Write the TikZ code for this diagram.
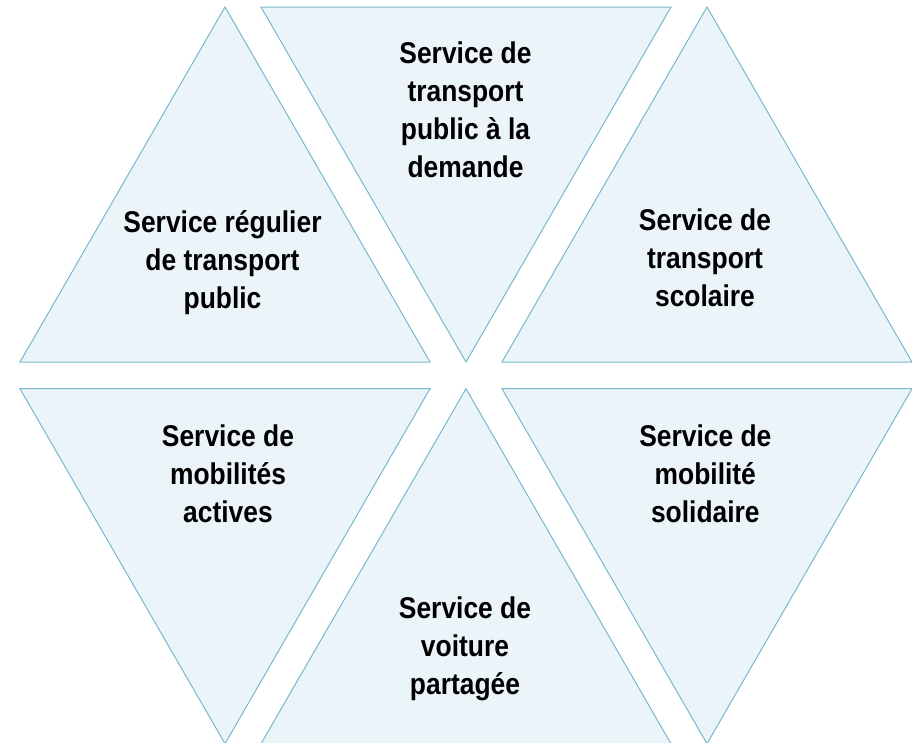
\documentclass[tikz,border=0pt]{standalone}
\usepackage{fontspec}
\setmainfont{Liberation Sans}[FakeStretch=0.88]
\usepackage{tikz}
\usetikzlibrary{positioning}
\definecolor{triLine}{RGB}{120,185,206}
\definecolor{triFill}{RGB}{235,244,248}
\tikzset{
    triPiece/.style={
        ,   draw=triLine
        ,   fill=triFill
        ,   line width=1pt
        ,   line join=miter
    },
    triLabel/.style={ % base = last line
        ,   align=center
        ,   anchor=base
        ,   inner sep=0pt
        ,   text=black
        ,   font={\fontsize{30}{38}\selectfont\bfseries}
    }
}

\begin{document}
\begin{tikzpicture}[x=1pt,y=-1pt]
		\useasboundingbox (0,0) rectangle (912,742);
		% centre x / base y / +1 up, -1 down
		\foreach \c/\yb/\d in {225/362/1, 466/7/-1, 707/362/1, 225/388.7/-1, 466/743.7/1, 707/388.7/-1}{
			\draw[triPiece] (\c-205,\yb) -- (\c+205,\yb) -- (\c,\yb-\d*355) -- cycle;
		}
		\node[triLabel] (regulier) at (222.5,308) {Service régulier\\de transport\\public};
		\node[triLabel] (demande) at (465.5,177.5) {Service de\\transport\\public à la\\demande};
		\node[triLabel] (scolaire) at (705,306) {Service de\\transport\\scolaire};
		\node[triLabel] (actives) at (228,522.5) {Service de\\mobilités\\actives};
		\node[triLabel] (voiture) at (465,694.5) {Service de\\voiture\\partagée};
		\node[triLabel] (solidaire) at (705.3,522.5) {Service de\\mobilité\\solidaire};
\end{tikzpicture}
\end{document}
